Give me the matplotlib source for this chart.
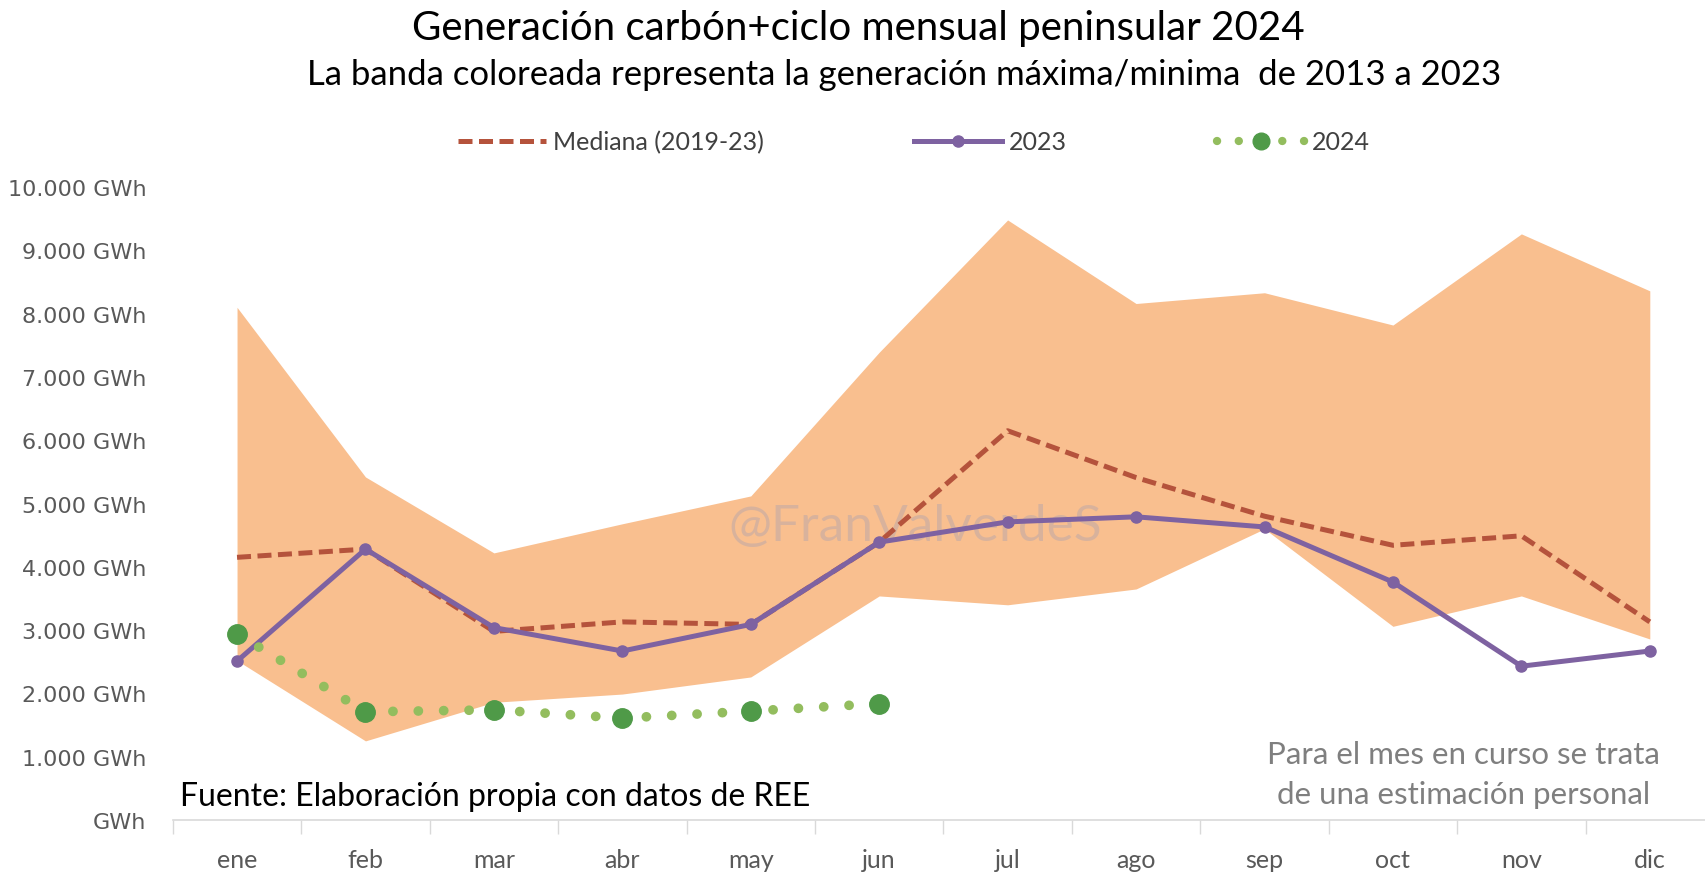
import matplotlib
matplotlib.use("Agg")
from matplotlib import pyplot as plt
from matplotlib.lines import Line2D
import numpy as np

months = ["ene", "feb", "mar", "abr", "may", "jun", "jul", "ago", "sep", "oct", "nov", "dic"]

# GWh
band_max = [8100, 5420, 4220, 4680, 5120, 7390, 9480, 8160, 8330, 7820, 9260, 8360]
band_min = [2520, 1250, 1860, 1990, 2260, 3540, 3400, 3650, 4600, 3060, 3540, 2860]
mediana = [4150, 4280, 2980, 3130, 3090, 4390, 6150, 5410, 4800, 4340, 4490, 3130]
y2023 = [2510, 4280, 3040, 2670, 3090, 4390, 4710, 4790, 4630, 3760, 2430, 2670]
y2024 = [2940, 1710, 1740, 1610, 1720, 1840]

yticks = list(range(0, 10001, 1000))

def fmt(v):
    if v == 0:
        return "GWh"
    return f"{v:,.0f}".replace(",", ".") + " GWh"

fig = plt.figure(figsize=(17.06, 8.87), dpi=100)
ax = fig.add_axes([0.1013, 0.0744, 0.9034, 0.7136])

x = np.arange(len(months))
ax.fill_between(x, band_min, band_max, color="#F9BF8F", linewidth=0, zorder=1)

ax.text(5.28, 4650, "@FranValverdeS", fontsize=37, color="#a8a0b0", alpha=0.4,
        ha="center", va="center", family="Lato", zorder=1.5)

ax.plot(x, mediana, color="#B5533C", linewidth=3.6, linestyle=(0, (2.8, 1.3)), zorder=2)
ax.plot(x, y2023, color="#7E62A1", linewidth=3.6, marker="o", markersize=8, zorder=3)
x24 = np.arange(len(y2024))
ax.plot(x24, y2024, color="#93BD5E", linewidth=7, linestyle=(0, (0.01, 2.6)),
        dash_capstyle="round", zorder=4)
ax.plot(x24, y2024, linestyle="none", marker="o", markersize=14, color="#4F9A48", zorder=5)

ax.set_xlim(-0.5, 11.5)
ax.set_ylim(0, 10000)
ax.set_yticks(yticks)
ax.set_yticklabels([fmt(v) for v in yticks], color="#595959", fontsize=16, family="DejaVu Sans")
ax.tick_params(axis="y", length=0, pad=19)

ax.set_xticks(x)
ax.set_xticklabels(months, color="#595959", fontsize=18, family="Lato")
ax.set_xticks(np.arange(-0.5, 12, 1), minor=True)
ax.tick_params(axis="x", which="major", length=0, pad=20)
ax.tick_params(axis="x", which="minor", length=10, color="#d9d9d9", width=1)

for s in ["left", "right", "top"]:
    ax.spines[s].set_visible(False)
ax.spines["bottom"].set_color("#d9d9d9")
ax.spines["bottom"].set_linewidth(1.2)

fig.text(0.503, 0.968, "Generación carbón+ciclo mensual peninsular 2024", ha="center", va="center",
         fontsize=29, family="Lato", color="black")
fig.text(0.53, 0.915, "La banda coloreada representa la generación máxima/minima  de 2013 a 2023",
         ha="center", va="center", fontsize=25, family="Lato", color="black")

fig.text(0.1055, 0.101, "Fuente: Elaboración propia con datos de REE", ha="left", va="center",
         fontsize=23, family="Lato", color="black")
fig.text(0.858, 0.126, "Para el mes en curso se trata\nde una estimación personal", ha="center",
         va="center", fontsize=22.5, family="Lato", color="#7f7f7f", linespacing=1.5)

handles = [
    Line2D([], [], color="#B5533C", linewidth=3.6, linestyle=(0, (2.8, 1.3))),
    Line2D([], [], color="#7E62A1", linewidth=3.6, marker="o", markersize=8),
    Line2D([], [], color="#93BD5E", linewidth=6, linestyle=(0, (0.01, 2.6)), dash_capstyle="round",
           marker="o", markersize=12, markerfacecolor="#4F9A48", markeredgecolor="#4F9A48"),
]
labels = ["Mediana (2019-23)", "2023", "2024"]
leg = fig.legend(handles, labels, loc="center", bbox_to_anchor=(0.536, 0.839), ncol=3,
                 frameon=False, handlelength=3.5, handletextpad=0.3, columnspacing=6.0,
                 prop={"family": "Lato", "size": 18}, labelcolor="#404040")

fig.savefig("out.png", dpi=100, facecolor="white")
